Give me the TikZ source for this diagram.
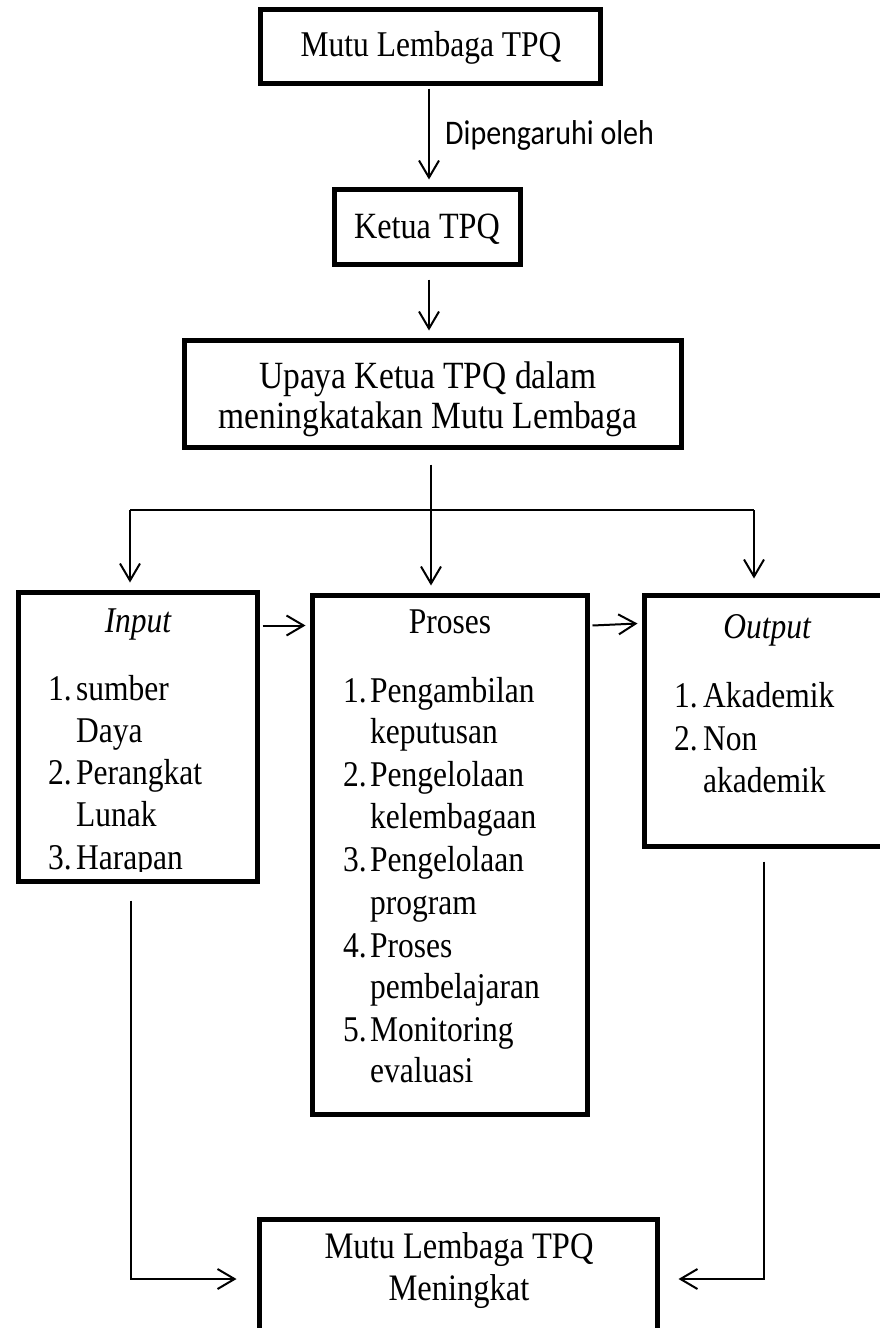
\documentclass[tikz,border=0pt]{standalone}
\usepackage{fontspec}
\usepackage{graphicx}
\setmainfont{Liberation Serif}
\newfontfamily\calibrifont{Carlito}
\usetikzlibrary{arrows.meta,calc}
\newcommand{\vstretch}[1]{\scalebox{1}[1.15]{#1}}
\tikzset{
  box/.style={draw=black, line width=5pt, rectangle, inner sep=0pt},
  conn/.style={draw=black, line width=2pt},
  arr/.style={conn, -{Straight Barb[length=17pt,width=20pt,line width=2pt]}},
  txt/.style={inner sep=0pt, anchor=base, font=\fontsize{31.5}{38}\selectfont},
  bigtxt/.style={txt, font=\fontsize{33.5}{40}\selectfont},
  ltxt/.style={txt, anchor=base west},
  lbltxt/.style={inner sep=0pt, anchor=base west, font=\calibrifont\fontsize{30}{36}\selectfont}
}
\begin{document}
\begin{tikzpicture}[x=1pt,y=-1pt]
\useasboundingbox (0,0) rectangle (880,1328);
% boxes
\node[box, minimum width=340pt, minimum height=74pt] (b1) at (430.5,46.5) {};
\node[box, minimum width=186pt, minimum height=75pt] (b2) at (427.5,227) {};
\node[box, minimum width=497pt, minimum height=107pt] (b3) at (433,394) {};
\node[box, minimum width=239pt, minimum height=289pt] (inp) at (138,737) {};
\node[box, minimum width=275pt, minimum height=519pt] (proses) at (450,855) {};
\node[box, minimum width=255.5pt, minimum height=251pt] (outp) at (772.25,721) {};
\node[box, minimum width=398pt, minimum height=125.5pt] (bot) at (458.5,1282.25) {};
% texts
\node[txt] (t1) at (431,56) {\vstretch{Mutu Lembaga TPQ}};
\node[lbltxt] (lbl) at (445,144) {\vstretch{Dipengaruhi oleh}};
\node[txt, font=\fontsize{32.2}{38}\selectfont] (t2) at (427,238) {\vstretch{Ketua TPQ}};
\node[bigtxt] (t3a) at (428,388) {\vstretch{Upaya Ketua TPQ dalam}};
\node[bigtxt] (t3b) at (428,428) {\vstretch{meningkatakan Mutu Lembaga}};
% input
\node[txt] (inh) at (138,632) {\vstretch{\itshape Input}};
\node[ltxt] (in1n) at (48,700) {\vstretch{1.}};
\node[ltxt] (in1a) at (76,700) {\vstretch{sumber}};
\node[ltxt] (in1b) at (76,742) {\vstretch{Daya}};
\node[ltxt] (in2n) at (48,784) {\vstretch{2.}};
\node[ltxt] (in2a) at (76,784) {\vstretch{Perangkat}};
\node[ltxt] (in2b) at (76,826) {\vstretch{Lunak}};
\begin{scope}
\clip (0,0) rectangle (880,871);
\node[ltxt] (in3n) at (48,869) {\vstretch{3.}};
\node[ltxt] (in3a) at (76,869) {\vstretch{Harapan}};
\end{scope}
% proses
\node[txt] (prh) at (450,633) {\vstretch{Proses}};
\node[ltxt] (p1n) at (343,702) {\vstretch{1.}};
\node[ltxt] (p1a) at (370,702) {\vstretch{Pengambilan}};
\node[ltxt] (p1b) at (370,743) {\vstretch{keputusan}};
\node[ltxt] (p2n) at (343,786) {\vstretch{2.}};
\node[ltxt] (p2a) at (370,786) {\vstretch{Pengelolaan}};
\node[ltxt] (p2b) at (370,828) {\vstretch{kelembagaan}};
\node[ltxt] (p3n) at (343,871) {\vstretch{3.}};
\node[ltxt] (p3a) at (370,871) {\vstretch{Pengelolaan}};
\node[ltxt] (p3b) at (370,914) {\vstretch{program}};
\node[ltxt] (p4n) at (343,957) {\vstretch{4.}};
\node[ltxt] (p4a) at (370,957) {\vstretch{Proses}};
\node[ltxt] (p4b) at (370,998) {\vstretch{pembelajaran}};
\node[ltxt] (p5n) at (343,1041) {\vstretch{5.}};
\node[ltxt] (p5a) at (370,1041) {\vstretch{Monitoring}};
\node[ltxt] (p5b) at (370,1082) {\vstretch{evaluasi}};
% output
\node[txt] (outh) at (767,638) {\vstretch{\itshape Output}};
\node[ltxt] (o1n) at (674,707) {\vstretch{1.}};
\node[ltxt] (o1a) at (703,707) {\vstretch{Akademik}};
\node[ltxt] (o2n) at (674,750) {\vstretch{2.}};
\node[ltxt] (o2a) at (703,750) {\vstretch{Non}};
\node[ltxt] (o2b) at (703,792) {\vstretch{akademik}};
% bottom
\node[txt, font=\fontsize{32.5}{39}\selectfont] (bt1) at (459,1258) {\vstretch{Mutu Lembaga TPQ}};
\node[txt, font=\fontsize{32.5}{39}\selectfont] (bt2) at (459,1300) {\vstretch{Meningkat}};
% connectors
\draw[arr] ($(b1.south)+(-1.5,2.5)$) -- ($(b2.north)+(1.5,-7.5)$);
\draw[arr] ($(b2.south)+(1.5,12.5)$) -- ($(b3.north)+(-4,-7.5)$);
\coordinate (split) at (431,510);
\coordinate (sl) at (130,510);
\coordinate (sr) at (754,510);
\draw[conn] (sl) -- (sr);
\draw[arr] ($(split |- b3.south)+(0,14.5)$) -- ($(split |- proses.north)+(0,-7.5)$);
\draw[arr] (sl) -- ($(sl |- inp.north)+(0,-7.5)$);
\draw[arr] (sr) -- ($(sr |- outp.north)+(0,-14.5)$);
\draw[arr] ($(inp.north east)+(2.5,35.5)$) -- ($(proses.north west)+(-4.5,32.5)$);
\draw[arr] ($(proses.north east)+(2.5,32.5)$) -- ($(outp.north west)+(-4.5,30.5)$);
\draw[arr] ($(inp.south)+(-7,16.5)$) |- ($(bot.west)+(-20.5,-3.25)$);
\draw[arr] ($(outp.south)+(-8.25,12.5)$) |- ($(bot.east)+(18.5,-3.25)$);
\end{tikzpicture}
\end{document}
